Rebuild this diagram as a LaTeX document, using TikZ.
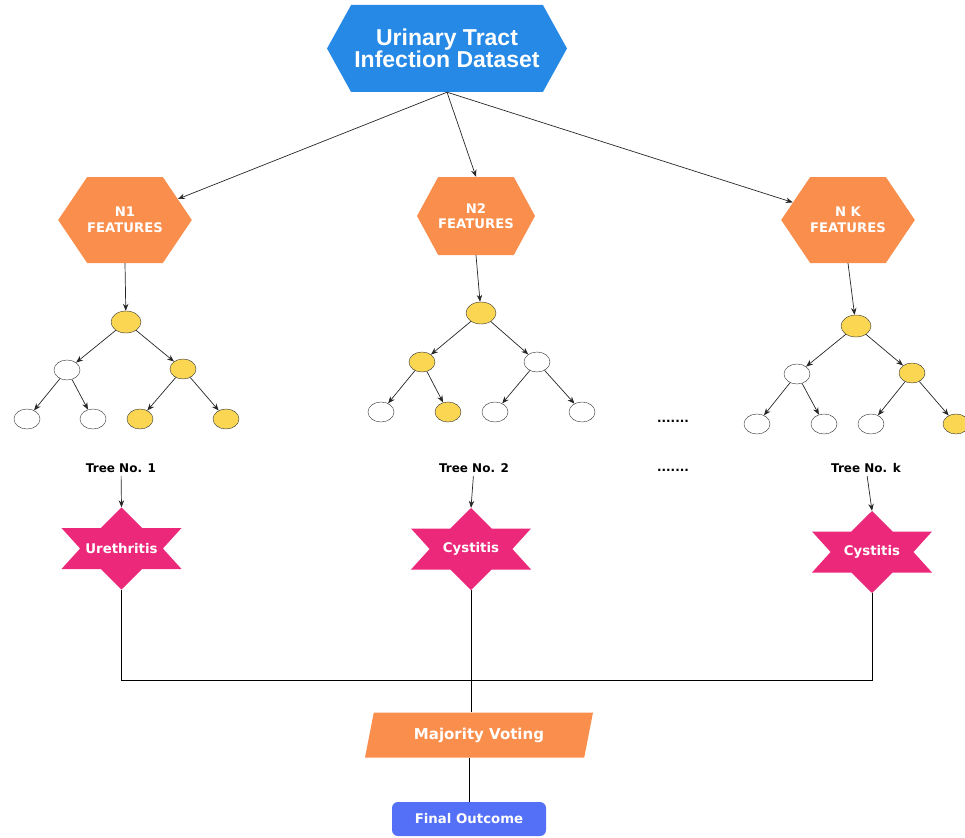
\documentclass[tikz,border=0pt]{standalone}
\usepackage{fontspec}
\setmainfont{DejaVu Sans}
\newfontfamily\headfont{Liberation Sans}
\usetikzlibrary{shapes.geometric,shapes.symbols,arrows.meta}
\definecolor{dsblue}{RGB}{38,137,230}
\definecolor{featorange}{RGB}{250,142,76}
\definecolor{dxpink}{RGB}{236,40,122}
\definecolor{nodeyellow}{RGB}{250,214,82}
\definecolor{outblue}{RGB}{84,112,246}

\begin{document}
\begin{tikzpicture}[x=1pt,y=-1pt,
  hexa/.style={signal, signal to=east and west, signal pointer angle=112, fill=featorange, text=white,
    minimum width=123pt, minimum height=86pt, inner sep=0pt, align=center,
    font=\bfseries\fontsize{13.2}{15.5}\selectfont},
  ynode/.style={ellipse, draw=black!80, fill=nodeyellow, minimum width=26pt, minimum height=20pt, inner sep=0pt},
  wnode/.style={ellipse, draw=black!80, fill=white, minimum width=26pt, minimum height=20pt, inner sep=0pt},
  rootnode/.style={minimum width=30pt, minimum height=22pt},
  arr/.style={-{Stealth[length=7pt,width=5.5pt]}, line width=0.7pt, black!85},
  treelabel/.style={font=\bfseries\fontsize{12}{14}\selectfont},
  starnode/.style={minimum width=120pt, minimum height=82pt, inner sep=0pt, text=white,
    font=\bfseries\fontsize{13.3}{15}\selectfont},
  starsix/.pic={\fill[dxpink, x=60pt, y=41pt]
      (0,1) -- (0.345,0.5) -- (1,0.5) -- (0.69,0) -- (1,-0.5) -- (0.345,-0.5) -- (0,-1)
      -- (-0.345,-0.5) -- (-1,-0.5) -- (-0.69,0) -- (-1,0.5) -- (-0.345,0.5) -- cycle;}]
\useasboundingbox (0,0) rectangle (965,837);

% dataset
\node[signal, signal to=east and west, signal pointer angle=122, fill=dsblue, text=white,
  minimum width=240pt, minimum height=87pt, inner sep=0pt, align=center,
  font=\headfont\bfseries\fontsize{23}{21.5}\selectfont] (data) at (447,48.5) {Urinary Tract\\Infection Dataset};

% feature subsets
\node[hexa] (n1) at (125,220) {N1\\FEATURES};
\node[hexa, signal pointer angle=123, minimum width=108pt, minimum height=78pt] (n2) at (476,216) {N2\\FEATURES};
\node[hexa] (nk) at (848,220) {N K\\FEATURES};

\draw[arr] (data.south) -- (n1);
\draw[arr] (data.south) -- (n2.north);
\draw[arr] (data.south) -- (nk);

% tree 1
\node[ynode, rootnode] (t1r) at (126,322) {};
\node[wnode] (t1a) at (67,370) {};
\node[ynode] (t1b) at (183,369) {};
\node[wnode] (t1c) at (27,419) {};
\node[wnode] (t1d) at (93,419) {};
\node[ynode] (t1e) at (140,419) {};
\node[ynode] (t1f) at (226,419) {};
\draw[arr] (n1.south) -- (t1r);
\draw[arr] (t1r) -- (t1a);
\draw[arr] (t1r) -- (t1b);
\draw[arr] (t1a) -- (t1c);
\draw[arr] (t1a) -- (t1d);
\draw[arr] (t1b) -- (t1e);
\draw[arr] (t1b) -- (t1f);

% tree 2
\node[ynode, rootnode] (t2r) at (481,313) {};
\node[ynode] (t2a) at (422,362) {};
\node[wnode] (t2b) at (537,362) {};
\node[wnode] (t2c) at (381,412) {};
\node[ynode] (t2d) at (448,412) {};
\node[wnode] (t2e) at (495,412) {};
\node[wnode] (t2f) at (582,412) {};
\draw[arr] (n2.south) -- (t2r);
\draw[arr] (t2r) -- (t2a);
\draw[arr] (t2r) -- (t2b);
\draw[arr] (t2a) -- (t2c);
\draw[arr] (t2a) -- (t2d);
\draw[arr] (t2b) -- (t2e);
\draw[arr] (t2b) -- (t2f);

% tree k
\node[ynode, rootnode] (tkr) at (856,326) {};
\node[wnode] (tka) at (797,374) {};
\node[ynode] (tkb) at (912,373) {};
\node[wnode] (tkc) at (757,424) {};
\node[wnode] (tkd) at (824,424) {};
\node[wnode] (tke) at (871,424) {};
\node[ynode] (tkf) at (956,424) {};
\draw[arr] (nk.south) -- (tkr);
\draw[arr] (tkr) -- (tka);
\draw[arr] (tkr) -- (tkb);
\draw[arr] (tka) -- (tkc);
\draw[arr] (tka) -- (tkd);
\draw[arr] (tkb) -- (tke);
\draw[arr] (tkb) -- (tkf);

\node[font=\bfseries\fontsize{12}{12}\selectfont] (dots1) at (673,421) {.......};
\node[font=\bfseries\fontsize{12}{12}\selectfont] (dots2) at (673,470) {.......};

% votes of the trees
\node[treelabel] (lab1) at (121,468) {Tree No. 1};
\node[treelabel] (lab2) at (474,468) {Tree No. 2};
\node[treelabel] (labk) at (866,468) {Tree No. k};
\pic at (121.5,548.5) {starsix};
\pic at (471,549) {starsix};
\pic at (872,552) {starsix};
\node[starnode] (s1) at (121.5,548.5) {Urethritis};
\node[starnode] (s2) at (471,549) {Cystitis};
\node[starnode] (sk) at (872,552) {Cystitis};
\draw[arr] (lab1) -- (s1.north);
\draw[arr] (lab2) -- (s2.north);
\draw[arr] (labk) -- (sk.north);

% majority voting
\node[trapezium, trapezium left angle=59, trapezium right angle=121, trapezium stretches body,
  fill=featorange, text=white, minimum width=228pt, minimum height=45pt, inner sep=0pt,
  font=\bfseries\fontsize{15}{17}\selectfont] (vote) at (479,735) {Majority Voting};
\node[rectangle, rounded corners=6pt, fill=outblue, text=white, minimum width=154pt, minimum height=34pt,
  font=\bfseries\fontsize{13.3}{16}\selectfont] (final) at (469,819) {Final Outcome};

\coordinate (bus) at (0,680);
\draw[line width=0.7pt] (s1.south) |- (bus -| sk.south) -- (sk.south);
\draw[line width=0.7pt] (s2.south) -- (s2.south |- vote.north);
\draw[line width=0.7pt] (vote.south -| final.north) -- (final.north);
\end{tikzpicture}
\end{document}
